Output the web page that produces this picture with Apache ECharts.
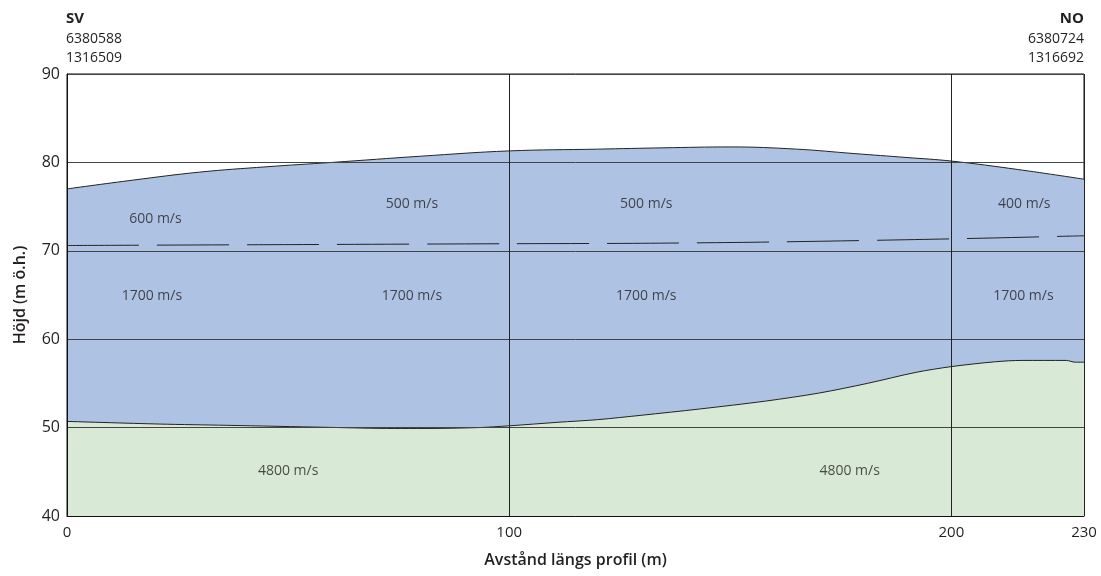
<!DOCTYPE html>
<html>
<head>
<meta charset="utf-8">
<title>Profil</title>
<script src="https://cdn.jsdelivr.net/npm/echarts@6/dist/echarts.min.js"></script>
<style>
  html, body { margin: 0; padding: 0; background: #fff; }
  #main { width: 1101px; height: 576px; }
</style>
</head>
<body>
<div id="main"></div>
<script>
// markytan (överkant av blått lager)
var surfaceX = [0, 15, 30, 45, 60, 80, 100, 120, 135, 150, 165, 178, 190, 200, 215, 230];
var surfaceY = [77.0, 78.0, 78.9, 79.5, 80.0, 80.7, 81.3, 81.5, 81.65, 81.75, 81.5, 81.0, 80.55, 80.15, 79.2, 78.1];

// streckad gräns mellan 600/500/400 och 1700 m/s
var dashX = [0, 50, 100, 130, 160, 200, 230];
var dashY = [70.6, 70.7, 70.8, 70.85, 71.0, 71.35, 71.7];

// bergyta (överkant av grönt lager)
var rockX = [0, 21, 36, 59, 74, 81, 93, 100, 111, 120, 130, 143, 158, 170, 181, 192, 200, 210, 216, 226, 228, 230];
var rockY = [50.7, 50.4, 50.26, 50.03, 49.9, 49.9, 50.0, 50.2, 50.6, 50.9, 51.4, 52.1, 53.0, 53.9, 55.0, 56.25, 56.9, 57.45, 57.6, 57.6, 57.4, 57.4];

// hastighetsetiketter
var labelX = [20, 78, 131, 216.5, 19.2, 78, 131, 216.3, 50, 177];
var labelY = [73.6, 75.3, 75.3, 75.3, 64.9, 64.9, 64.9, 64.9, 45.1, 45.1];
var labelText = ['600 m/s', '500 m/s', '500 m/s', '400 m/s', '1700 m/s', '1700 m/s', '1700 m/s', '1700 m/s', '4800 m/s', '4800 m/s'];

var xTicks = [0, 100, 200, 230];

function pairs(xs, ys) {
    return xs.map(function (x, i) { return [x, ys[i]]; });
}

var font = '"Open Sans", "Noto Sans", sans-serif';
var ink = '#231f20';
var myChart = echarts.init(document.getElementById('main'), null, {renderer: 'canvas'});

var option = {
    animation: false,
    textStyle: {fontFamily: font},
    grid: {
        left: 67,
        right: 17,
        top: 74,
        bottom: 60,
        show: true,
        borderColor: '#111',
        borderWidth: 1,
        backgroundColor: 'transparent'
    },
    graphic: [
        {type: 'text', left: 66, top: 11, style: {text: 'SV', font: 'bold 15px ' + font, fill: ink}},
        {type: 'text', left: 66, top: 30, style: {text: '6380588\n1316509', font: '14px ' + font, lineHeight: 19, fill: ink}},
        {type: 'text', right: 17, top: 11, style: {text: 'NO', font: 'bold 15px ' + font, fill: ink, align: 'right'}},
        {type: 'text', right: 17, top: 30, style: {text: '6380724\n1316692', font: '14px ' + font, lineHeight: 19, fill: ink, align: 'right'}}
    ],
    xAxis: {
        type: 'value',
        min: 0,
        max: 230,
        interval: 100,
        z: 5,
        name: 'Avstånd längs profil (m)',
        nameLocation: 'middle',
        nameGap: 36,
        nameTextStyle: {fontSize: 16, fontWeight: 600, color: ink, fontFamily: font},
        axisLine: {show: true, lineStyle: {color: '#111', width: 1}},
        axisTick: {show: false},
        axisLabel: {
            customValues: xTicks,
            fontSize: 15,
            color: ink,
            margin: 9,
            fontFamily: font
        },
        splitLine: {show: true, lineStyle: {color: '#222', width: 1}}
    },
    yAxis: {
        type: 'value',
        min: 40,
        max: 90,
        interval: 10,
        z: 5,
        name: 'Höjd (m ö.h.)',
        nameLocation: 'middle',
        nameGap: 39,
        nameTextStyle: {fontSize: 16, fontWeight: 600, color: ink, fontFamily: font},
        axisLine: {show: true, lineStyle: {color: '#111', width: 1}},
        axisTick: {show: false},
        axisLabel: {fontSize: 16, color: ink, margin: 7, fontFamily: font},
        splitLine: {show: true, lineStyle: {color: '#444', width: 1}}
    },
    series: [
        {
            name: 'Markyta',
            type: 'line',
            data: pairs(surfaceX, surfaceY),
            smooth: 0.4,
            symbol: 'none',
            lineStyle: {color: '#222', width: 1},
            areaStyle: {color: '#aec3e3', opacity: 1, origin: 'start'},
            z: 1
        },
        {
            name: 'Bergyta',
            type: 'line',
            data: pairs(rockX, rockY),
            smooth: 0.3,
            symbol: 'none',
            lineStyle: {color: '#222', width: 1},
            areaStyle: {color: '#d8ead5', opacity: 1, origin: 'start'},
            z: 2
        },
        {
            name: 'Lagergräns',
            type: 'line',
            data: pairs(dashX, dashY),
            smooth: 0.3,
            symbol: 'none',
            lineStyle: {color: '#222', width: 1, type: [72, 18]},
            z: 3
        },
        {
            name: 'Hastighet',
            type: 'scatter',
            symbolSize: 0,
            data: labelX.map(function (x, i) { return {value: [x, labelY[i]], name: labelText[i]}; }),
            label: {
                show: true,
                position: 'inside',
                formatter: function (p) { return p.name; },
                fontSize: 14,
                color: ink,
                fontFamily: font
            },
            z: 6
        }
    ]
};

myChart.setOption(option);
</script>
</body>
</html>
